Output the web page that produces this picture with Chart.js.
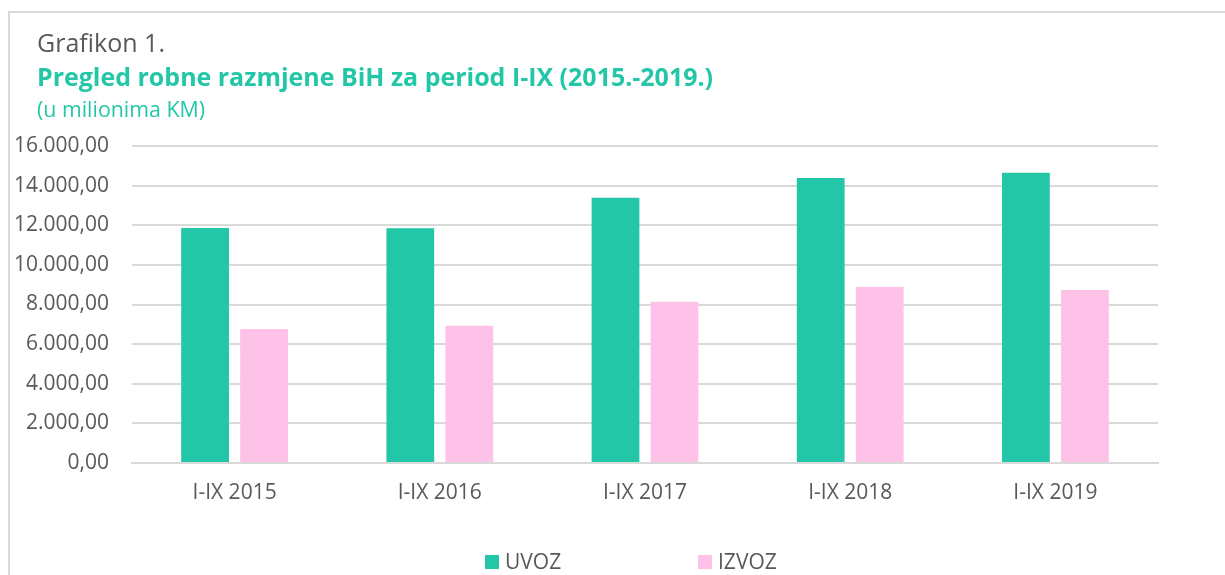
<!DOCTYPE html>
<html>
<head>
<meta charset="utf-8">
<script src="https://cdn.jsdelivr.net/npm/chart.js@4.4.1/dist/chart.umd.min.js"></script>
<style>
  html, body { margin: 0; padding: 0; background: #fff; }
  #wrap { position: relative; width: 1225px; height: 575px; overflow: hidden; }
  #frame { position: absolute; left: 8px; top: 11px; width: 1300px; height: 700px; border-left: 2px solid #d9d9d9; border-top: 2px solid #d9d9d9; }
  canvas { position: absolute; left: 0; top: 0; }
</style>
</head>
<body>
<div id="wrap">
  <div id="frame"></div>
  <canvas id="chart" width="1225" height="575"></canvas>
</div>
<script>
const categories = ["I-IX 2015", "I-IX 2016", "I-IX 2017", "I-IX 2018", "I-IX 2019"];
const uvoz = [11860, 11850, 13390, 14380, 14650];
const izvoz = [6760, 6930, 8140, 8880, 8730];
const seriesNames = ["UVOZ", "IZVOZ"];
const yMax = 16000;
const yStep = 2000;

const GREEN = "#23c7a7";
const PINK = "#fec1e8";
const TEXT = "#595959";
const FONT = "'Open Sans', sans-serif";

// 16.000,00 style numbers
function fmt(v) {
  const parts = Math.round(v).toString().replace(/\B(?=(\d{3})+(?!\d))/g, ".");
  return parts + ",00";
}

// pick a font size so the text hits a given width
function fitFont(ctx, text, weight, width) {
  ctx.font = weight + " 100px " + FONT;
  const w = ctx.measureText(text).width;
  return weight + " " + (100 * width / w).toFixed(2) + "px " + FONT;
}

const headings = {
  id: "headings",
  afterDraw(chart) {
    const ctx = chart.ctx;
    ctx.save();
    ctx.textAlign = "left";
    ctx.textBaseline = "alphabetic";
    ctx.fillStyle = TEXT;
    ctx.font = fitFont(ctx, "Grafikon 1.", "normal", 128);
    ctx.fillText("Grafikon 1.", 37, 52);
    ctx.fillStyle = GREEN;
    ctx.font = fitFont(ctx, "Pregled robne razmjene BiH za period I-IX (2015.-2019.)", "bold", 676);
    ctx.fillText("Pregled robne razmjene BiH za period I-IX (2015.-2019.)", 37, 86);
    ctx.font = fitFont(ctx, "(u milionima KM)", "normal", 168);
    ctx.fillText("(u milionima KM)", 37, 117);

    // legend
    const spots = [485, 698];
    ctx.font = "21px " + FONT;
    chart.data.datasets.forEach((ds, i) => {
      ctx.fillStyle = ds.backgroundColor;
      ctx.fillRect(spots[i], 555, 14, 14);
      ctx.fillStyle = TEXT;
      ctx.fillText(ds.label, spots[i] + 20, 569);
    });
    ctx.restore();
  }
};

new Chart(document.getElementById("chart"), {
  type: "bar",
  data: {
    labels: categories,
    datasets: [
      { label: seriesNames[0], data: uvoz, backgroundColor: GREEN },
      { label: seriesNames[1], data: izvoz, backgroundColor: PINK }
    ]
  },
  options: {
    responsive: false,
    animation: false,
    devicePixelRatio: 1,
    categoryPercentage: 0.575,
    barPercentage: 0.81,
    layout: { padding: { top: 146, right: 67, left: 0, bottom: 0 } },
    plugins: {
      legend: { display: false },
      tooltip: { enabled: false }
    },
    scales: {
      x: {
        grid: { display: false, drawTicks: false },
        border: { color: "#d9d9d9", width: 2 },
        ticks: { color: TEXT, font: { family: FONT, size: 21 }, padding: 17 },
        afterFit(s) { s.height = 112; }
      },
      y: {
        min: 0,
        max: yMax,
        grid: { color: "#d9d9d9", lineWidth: 2, drawTicks: false },
        border: { display: false },
        ticks: {
          stepSize: yStep,
          color: TEXT,
          font: { family: FONT, size: 21 },
          padding: 23,
          callback: (v) => fmt(v)
        },
        afterFit(s) { s.width = 132; }
      }
    }
  },
  plugins: [headings]
});
</script>
</body>
</html>
